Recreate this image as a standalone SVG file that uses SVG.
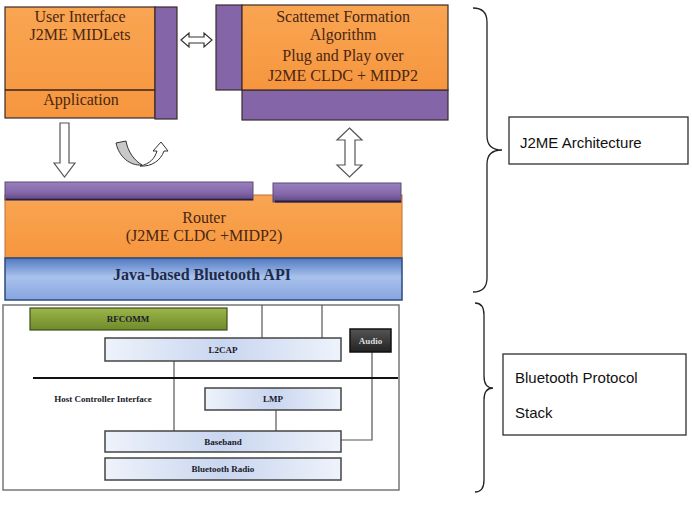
<svg xmlns="http://www.w3.org/2000/svg" width="692" height="509" viewBox="0 0 692 509">
<defs>
<linearGradient id="og" x1="0" y1="0" x2="0" y2="1"><stop offset="0" stop-color="#f9a552"/><stop offset="1" stop-color="#f6963f"/></linearGradient>
<linearGradient id="pg" x1="0" y1="0" x2="0" y2="1"><stop offset="0" stop-color="#9a80bf"/><stop offset="0.6" stop-color="#8466a8"/><stop offset="1" stop-color="#5c4682"/></linearGradient>
<linearGradient id="bg" x1="0" y1="0" x2="0" y2="1"><stop offset="0" stop-color="#4f78c0"/><stop offset="0.45" stop-color="#a9c1ec"/><stop offset="1" stop-color="#86a6e0"/></linearGradient>
<linearGradient id="gg" x1="0" y1="0" x2="0" y2="1"><stop offset="0" stop-color="#9cb64a"/><stop offset="1" stop-color="#6f8a2a"/></linearGradient>
<linearGradient id="lg" x1="0" y1="0" x2="1" y2="0"><stop offset="0" stop-color="#eef3fb"/><stop offset="0.5" stop-color="#c9d6ef"/><stop offset="1" stop-color="#eef3fb"/></linearGradient>
<linearGradient id="ag" x1="0" y1="0" x2="0" y2="1"><stop offset="0" stop-color="#555"/><stop offset="1" stop-color="#222"/></linearGradient>
</defs>
<style>
.ser{font-family:"Liberation Serif","Times New Roman",serif;text-anchor:middle}
.lbl{font-size:16px;fill:#4a2612}
.small{font-size:9px;font-weight:bold;fill:#1a1a2a}
.side{font-family:"Liberation Sans",Arial,sans-serif;font-size:15px;fill:#111}
.ob{stroke:#3a2a2a;stroke-width:1.2}
.pb{fill:#fff;stroke:#2f2f2f;stroke-width:1.3}
.lb{fill:url(#lg);stroke:#444;stroke-width:1.5}
.ln{stroke:#555;stroke-width:1.2;fill:none}
.br{fill:none;stroke:#222;stroke-width:1.3}
</style>
<rect width="692" height="509" fill="#fff"/>

<g id="ui-app">
<rect x="5" y="7" width="150" height="111" fill="url(#og)" class="ob"/>
<rect x="155" y="7" width="22" height="112" fill="#8466a8" class="ob"/>
<line x1="5" y1="90" x2="155" y2="90" stroke="#3a2020" stroke-width="1.5"/>
<text class="ser lbl" x="80" y="22">User Interface</text>
<text class="ser lbl" x="80" y="40">J2ME MIDLets</text>
<text class="ser lbl" x="81" y="105">Application</text>
</g>

<g id="scatternet">
<rect x="216" y="5" width="26" height="85" fill="#8466a8" class="ob"/>
<rect x="242" y="90" width="206" height="30" fill="#8466a8" class="ob"/>
<rect x="242" y="5" width="206" height="85" fill="url(#og)" class="ob"/>
<text class="ser lbl" x="343" y="22" font-size="16.5">Scattemet Formation</text>
<text class="ser lbl" x="343" y="40" font-size="16.5">Algorithm</text>
<text class="ser lbl" x="343" y="61" font-size="16.5">Plug and Play over</text>
<text class="ser lbl" x="343" y="81" font-size="16.5">J2ME CLDC + MIDP2</text>
</g>

<g id="router">
<rect x="5" y="195" width="397" height="63" fill="url(#og)" stroke="#c07030" stroke-width="1"/>
<rect x="5" y="182" width="248" height="18" fill="url(#pg)" stroke="#5a4a70" stroke-width="1"/>
<line x1="6" y1="199.5" x2="253" y2="199.5" stroke="#2a1f3a" stroke-width="1.5"/>
<rect x="273" y="183" width="128" height="19" fill="url(#pg)" stroke="#5a4a70" stroke-width="1"/>
<line x1="275" y1="201.5" x2="401" y2="201.5" stroke="#2a1f3a" stroke-width="2"/>
<text class="ser lbl" x="204" y="223">Router</text>
<text class="ser lbl" x="204" y="241">(J2ME CLDC +MIDP2)</text>
</g>

<g id="bt-api">
<rect x="5" y="258" width="397" height="42" fill="url(#bg)" stroke="#2c4a7c" stroke-width="1.5"/>
<text class="ser" x="202" y="280" font-size="16" font-weight="bold" fill="#1d2a4a">Java-based Bluetooth API</text>
</g>

<g id="stack-frame">
<rect x="3" y="305" width="396" height="185" fill="#fff" stroke="#777" stroke-width="1.5"/>
</g>

<g id="connectors">
<polygon points="60,123 69,123 69,163 75,163 64.5,177 54,163 60,163" fill="#fff" stroke="#555" stroke-width="1.2"/>
<polygon points="181,40 189,33 189,37 204,37 204,33 212,40 204,47 204,43 189,43 189,47" fill="#fff" stroke="#333" stroke-width="1.2"/>
<polygon points="349.5,128 362,140 355,140 355,165 362,165 349.5,177 337,165 345,165 345,140 337,140" fill="#fff" stroke="#555" stroke-width="1.2"/>
<path d="M116,143 L126,141 C128,152 134,160 142,165 C130,166 119,157 116,143 Z" fill="#c8c8c8" stroke="#333" stroke-width="1"/>
<path d="M140,166 C150,164 155,158 157,151 L153,151 L161,142 L168,151 L164,151 C161,160 152,167 140,166 Z" fill="#fff" stroke="#333" stroke-width="1"/>
<line class="ln" x1="262" y1="305" x2="262" y2="338"/>
<line class="ln" x1="322" y1="305" x2="322" y2="338"/>
<line class="ln" x1="174" y1="361" x2="174" y2="431"/>
<line class="ln" x1="276" y1="410" x2="276" y2="431"/>
<polyline class="ln" points="372,352 372,440 341,440"/>
<line x1="33" y1="378" x2="398" y2="378" stroke="#111" stroke-width="2"/>
</g>

<g id="rfcomm">
<rect x="30" y="308" width="197" height="22" fill="url(#gg)" stroke="#3f4f18" stroke-width="1.2"/>
<text class="ser small" x="128" y="322">RFCOMM</text>
</g>
<g id="l2cap">
<rect x="105" y="338" width="236" height="23" class="lb"/>
<text class="ser small" x="223" y="353">L2CAP</text>
</g>
<g id="audio">
<rect x="350" y="329" width="41" height="23" fill="url(#ag)" stroke="#111" stroke-width="1.5"/>
<text class="ser small" x="370.5" y="344" style="fill:#ddd">Audio</text>
</g>
<g id="hci">
<text class="ser small" x="103" y="402">Host Controller Interface</text>
</g>
<g id="lmp">
<rect x="205" y="388" width="136" height="22" class="lb"/>
<text class="ser small" x="273" y="402">LMP</text>
</g>
<g id="baseband">
<rect x="105" y="431" width="236" height="21" class="lb"/>
<text class="ser small" x="223" y="445">Baseband</text>
</g>
<g id="bt-radio">
<rect x="105" y="458" width="236" height="22" class="lb"/>
<text class="ser small" x="223" y="472">Bluetooth Radio</text>
</g>

<g id="j2me-arch">
<path class="br" d="M473,8 Q487,8 487,22 L487,136 Q487,150 502,150 Q487,150 487,164 L487,278 Q487,292 473,292"/>
<rect x="509" y="117" width="179" height="47" class="pb"/>
<text class="side" x="520" y="148">J2ME Architecture</text>
</g>
<g id="bt-stack">
<path class="br" d="M475,303 Q484,303 484,315 L484,376 Q484,388 493,388 Q484,388 484,400 L484,480 Q484,492 475,492"/>
<rect x="503" y="354" width="183" height="81" class="pb"/>
<text class="side" x="515" y="383">Bluetooth Protocol</text>
<text class="side" x="515" y="418">Stack</text>
</g>
</svg>
